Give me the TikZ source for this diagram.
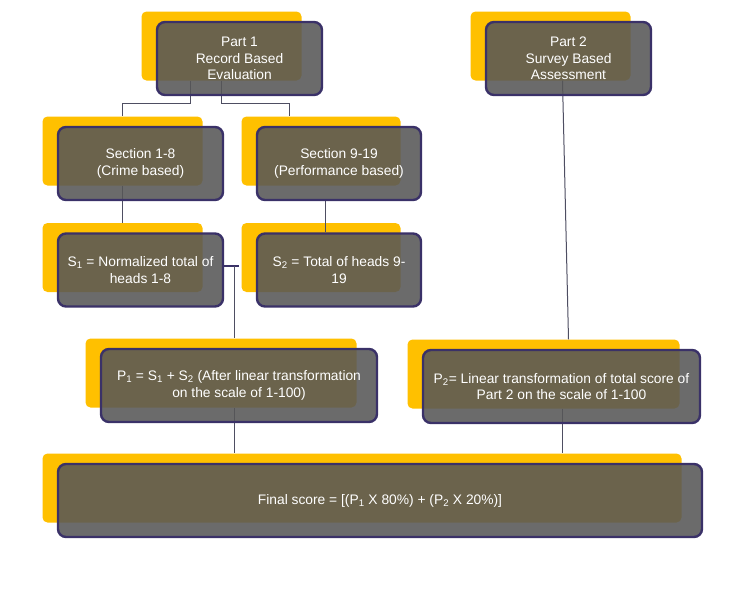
\documentclass[tikz,border=0pt]{standalone}
\usepackage{fontspec}
\setmainfont{Liberation Sans}
\definecolor{gold}{HTML}{FFC000}
\definecolor{slate}{RGB}{87,87,87}
\definecolor{navy}{RGB}{58,49,104}
\definecolor{wirecol}{RGB}{78,78,98}

\pgfdeclarelayer{gold}
\pgfdeclarelayer{wires}
\pgfsetlayers{gold,wires,main}

\tikzset{
  backcard/.style={fill=gold, rounded corners=5pt, minimum height=69pt, inner sep=0pt},
  frontcard/.style={fill=slate, fill opacity=0.88, text opacity=1, draw=navy, line width=2.4pt,
    rounded corners=8pt, minimum height=73pt, text=white, align=center,
    font=\fontsize{13.8}{16.5}\selectfont, inner sep=2pt},
  wire/.style={draw=wirecol, line width=1pt},
}

\begin{document}
\begin{tikzpicture}[x=1pt,y=-1pt]
\begin{pgfonlayer}{gold}
\fill[white] (0,0) rectangle (754,605);
\end{pgfonlayer}
% Cards: grey front box with a gold one peeking out behind it
\foreach \nm/\cx/\cy/\bw/\txt in {
  part1/239.5/58.5/165/{Part 1\\Record Based\\Evaluation},
  part2/568.5/58.5/165/{Part 2\\Survey Based\\Assessment},
  sec1/140.5/163.5/165/{Section 1-8\\(Crime based)},
  sec2/339/163.5/164/{Section 9-19\\(Performance based)},
  s1/140.5/270/165/{S\textsubscript{1} = Normalized total of\\heads 1-8},
  s2/339/270/164/{S\textsubscript{2} = Total of heads 9-\\19},
  p1/239/385.5/276/{P\textsubscript{1} = S\textsubscript{1} + S\textsubscript{2} (After linear transformation\\on the scale of 1-100)},
  p2/561.5/386.5/277/{P\textsubscript{2}= Linear transformation of total score of\\Part 2 on the scale of 1-100},
  final/380/500.5/644/{Final score = [(P\textsubscript{1} X 80\%) + (P\textsubscript{2} X 20\%)]}} {
  \node[frontcard, minimum width=\bw] (\nm) at (\cx,\cy) {\txt};
  \begin{pgfonlayer}{gold}
  \node[backcard, minimum width=\bw-5] (\nm y) at ([shift={(-18,-12.5)}]\nm.center) {};
  \end{pgfonlayer}
}
% Connectors
\begin{pgfonlayer}{wires}
\draw[wire] ([xshift=-31.5]part1y.south) -- ++(0,23) -| (sec1y.north);
\draw[wire] (part1y.south) -- ++(0,23) -| ([xshift=-32]sec2y.north);
\draw[wire] (sec1y.south) -- (s1y.north);
\draw[wire] ([xshift=-14]sec2.south) -- ([xshift=-14]s2.north);
\draw[navy, line width=2pt] ([yshift=4]s1.east) -- ++(15,0);
\coordinate (s1tap) at ([shift={(10,-4)}]s1.east);
\draw[wire] (s1tap) -- (s1tap |- p1y.north);
\coordinate (p1out) at ([xshift=13.5]p1y.south);
\draw[wire] (p1out) -- (p1out |- finaly.north);
\draw[wire] ([xshift=12]part2y.south) -- ([xshift=25]p2y.north);
\coordinate (p2out) at ([xshift=19]p2y.south);
\draw[wire] (p2out) -- (p2out |- finaly.north);
\end{pgfonlayer}
\end{tikzpicture}
\end{document}
